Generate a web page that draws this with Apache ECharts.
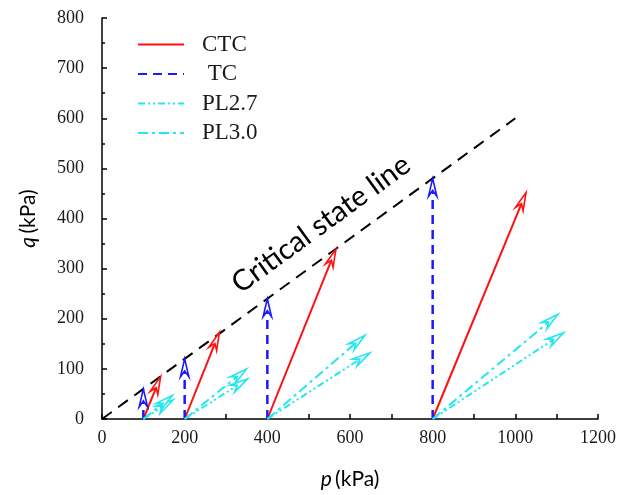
<!DOCTYPE html>
<html>
<head>
<meta charset="utf-8">
<script src="https://cdn.jsdelivr.net/npm/echarts@6/dist/echarts.min.js"></script>
<style>html,body{margin:0;padding:0;background:#fff}#c{width:630px;height:495px}</style>
</head>
<body>
<div id="c"></div>
<script>
// ---- data (kPa) ----
const startP = [100, 200, 400, 800];
const ctcEndP = [142, 284, 566, 1026];
const ctcEndQ = [85, 173, 339, 452];
const tcEndQ = [60, 120, 240, 480];
const pl27EndP = [172, 352, 648, 1117];
const pl27EndQ = [38, 80, 132, 172];
const pl30EndP = [170, 350, 636, 1103];
const pl30EndQ = [47, 100, 167, 209];
const cslP = [0, 1000];
const cslQ = [0, 600];
const cslLabelText = 'Critical state line';
const cslLabelAt = [530, 389];
const xTicks = [0, 200, 400, 600, 800, 1000, 1200];
const yTicks = [0, 100, 200, 300, 400, 500, 600, 700, 800];
const legendNames = ['CTC', 'TC', 'PL2.7', 'PL3.0'];

// ---- styles ----
const RED = '#ff1010', BLUE = '#1a1aff', CYAN = '#22e6f0';
const styles = {
  'CTC':   {color: RED,  dash: 'solid', width: 2},
  'TC':    {color: BLUE, dash: [9, 6], width: 2.5},
  'PL2.7': {color: CYAN, dash: [7, 3, 2, 3, 2, 3], width: 2},
  'PL3.0': {color: CYAN, dash: [10, 4, 3, 4], width: 2}
};

function arrows(endP, endQ, fromP) {
  return fromP.map((p0, i) => [p0, 0, endP[i], endQ[i]]);
}
const arrowData = {
  'CTC': arrows(ctcEndP, ctcEndQ, startP),
  'TC': arrows(startP, tcEndQ, startP),
  'PL2.7': arrows(pl27EndP, pl27EndQ, startP),
  'PL3.0': arrows(pl30EndP, pl30EndQ, startP)
};

function arrowRender(st) {
  return function (params, api) {
    const a = api.coord([api.value(0), api.value(1)]);
    const b = api.coord([api.value(2), api.value(3)]);
    const dx = b[0] - a[0], dy = b[1] - a[1];
    const L = Math.hypot(dx, dy);
    const ux = dx / L, uy = dy / L, nx = -uy, ny = ux;
    const hl = 18, hw = 4.2, notch = 12;
    const left = [b[0] - ux * hl + nx * hw, b[1] - uy * hl + ny * hw];
    const right = [b[0] - ux * hl - nx * hw, b[1] - uy * hl - ny * hw];
    const back = [b[0] - ux * notch, b[1] - uy * notch];
    const dash = st.dash === 'solid' ? null : st.dash;
    return {
      type: 'group',
      children: [
        {type: 'line', shape: {x1: a[0], y1: a[1], x2: back[0], y2: back[1]},
         style: {stroke: st.color, lineWidth: st.width, lineDash: dash, fill: null}},
        {type: 'polygon', shape: {points: [b, left, back, right]},
         style: {fill: '#fff', stroke: st.color, lineWidth: 1.6}}
      ]
    };
  };
}

const series = [];
// legend carriers (line series)
legendNames.forEach(n => {
  const st = styles[n];
  series.push({
    name: n, type: 'line', data: [], symbol: 'none', showSymbol: false,
    lineStyle: {color: st.color, width: n === 'CTC' ? 3 : st.width, type: st.dash},
    itemStyle: {color: st.color}
  });
});
// critical state line
series.push({
  name: 'CSL', type: 'line', silent: true, symbol: 'none',
  data: cslP.map((p, i) => [p, cslQ[i]]),
  lineStyle: {color: '#000', width: 2, type: [12, 8]}, z: 1
});
// arrows
legendNames.forEach(n => {
  series.push({
    name: n, type: 'custom', renderItem: arrowRender(styles[n]),
    data: arrowData[n], encode: {x: [0, 2], y: [1, 3]}, z: 3, clip: false
  });
});
// label along CSL
series.push({
  name: 'CSL label', type: 'custom', silent: true, z: 4,
  data: [[cslLabelAt[0], cslLabelAt[1]]],
  renderItem: function (params, api) {
    const c = api.coord([api.value(0), api.value(1)]);
    const p0 = api.coord([cslP[0], cslQ[0]]);
    const p1 = api.coord([cslP[1], cslQ[1]]);
    const ang = Math.atan2(p0[1] - p1[1], p1[0] - p0[0]);
    return {
      type: 'text', x: c[0], y: c[1], rotation: ang,
      style: {text: cslLabelText, fill: '#000', font: '29px Lato', align: 'center', verticalAlign: 'middle'}
    };
  }
});

const tickFont = {color: '#1a1a1a', fontFamily: 'Liberation Serif', fontSize: 18, formatter: v => String(v)};
const nameRich = {
  i: {fontFamily: 'Lato', fontStyle: 'italic', fontSize: 21, color: '#000'},
  n: {fontFamily: 'Lato', fontSize: 21, color: '#000'}
};

const chart = echarts.init(document.getElementById('c'), null, {renderer: 'canvas'});
chart.setOption({
  animation: false,
  backgroundColor: '#fff',
  grid: {left: 102, right: 32, top: 18, bottom: 74, containLabel: false},
  legend: {
    data: legendNames, orient: 'vertical', left: 137, top: 33, padding: 0,
    itemWidth: 46, itemHeight: 14, itemGap: 6.5, selectedMode: false,
    itemStyle: {opacity: 0},
    formatter: n => (n === 'TC' ? ' ' + n : n),
    textStyle: {fontFamily: 'Liberation Serif', fontSize: 23, lineHeight: 22, color: '#1a1a1a', padding: [0, 0, 0, 13]}
  },
  xAxis: {
    type: 'value', min: xTicks[0], max: xTicks[xTicks.length - 1], interval: xTicks[1] - xTicks[0],
    name: '{i|p} {n|(kPa)}', nameLocation: 'middle', nameGap: 50,
    nameTextStyle: {rich: nameRich},
    axisLine: {show: true, lineStyle: {color: '#000', width: 1.5}},
    axisTick: {show: true, inside: true, length: 5, lineStyle: {color: '#000', width: 1.5}},
    minorTick: {show: true, splitNumber: 2, length: 5, lineStyle: {color: '#000', width: 1.5}},
    axisLabel: Object.assign({margin: 10}, tickFont),
    splitLine: {show: false}
  },
  yAxis: {
    type: 'value', min: yTicks[0], max: yTicks[yTicks.length - 1], interval: yTicks[1] - yTicks[0],
    name: '{i|q} {n|(kPa)}', nameLocation: 'middle', nameGap: 63, nameRotate: 90,
    nameTextStyle: {rich: nameRich},
    axisLine: {show: true, lineStyle: {color: '#000', width: 1.5}},
    axisTick: {show: true, inside: true, length: 5, lineStyle: {color: '#000', width: 1.5}},
    minorTick: {show: true, splitNumber: 2, length: 3, lineStyle: {color: '#000', width: 1.5}},
    axisLabel: Object.assign({margin: 18}, tickFont),
    splitLine: {show: false}
  },
  series: series
});
</script>
</body>
</html>
